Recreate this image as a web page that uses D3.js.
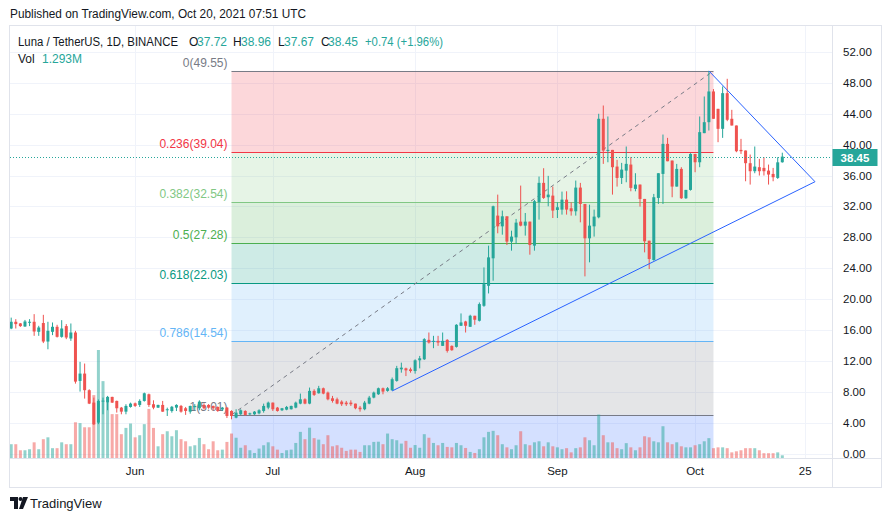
<!DOCTYPE html>
<html><head><meta charset="utf-8">
<script src="https://cdn.jsdelivr.net/npm/d3@7/dist/d3.min.js"></script>
<style>
body{margin:0;background:#fff;}
svg{display:block;font-family:"Liberation Sans",Arial,sans-serif;}
</style>
</head><body>
<svg id="chart" width="892" height="521"></svg>
<script>
// ---------------- DATA ----------------
const firstDay = "2021-05-05";
// daily candles [open, high, low, close], May 5 .. Oct 20 2021
const ohlc = [
[16.19,17.6,16.1,17.06],[17.06,17.4,16.19,16.76],[16.85,16.9,16.4,16.5],[16.45,17.3,16.4,17.1],
[16.95,17.4,16.5,17.06],[17.06,18.05,15.24,15.8],[15.76,16.54,15.24,16.32],[16.9,17.96,14.3,14.5],
[14.5,17.06,13.5,15.89],[15.76,16.97,15.33,16.41],[16.41,16.67,15.02,15.11],[15.11,17.27,15.0,16.19],
[16.5,16.76,14.81,15.02],[14.89,16.84,14.59,15.67],[15.67,15.89,9.05,9.31],[9.4,11.87,8.02,10.35],
[10.35,11.65,7.11,8.2],[8.2,8.32,6.4,6.46],
[6.59,7.24,3.7,3.78],[4.0,7.0,3.8,6.81],[6.72,7.24,5.08,6.85],[6.59,7.46,5.6,7.33],[7.33,7.35,6.55,6.59],
[6.81,6.85,5.3,5.86],[5.94,6.03,5.08,5.42],[5.42,6.38,5.08,6.16],[6.03,6.59,5.94,6.46],
[6.5,6.6,6.03,6.16],[6.29,7.02,6.03,6.81],[6.81,7.89,6.72,7.8],[7.67,7.76,6.03,6.29],[6.38,6.89,5.73,5.94],
[5.94,6.32,5.9,6.29],[6.29,6.81,5.4,5.42],[5.6,5.94,4.86,5.73],[5.5,6.16,5.29,6.05],[5.94,6.38,5.5,6.29],
[6.16,6.29,5.29,5.42],[5.86,6.03,5.0,5.51],[5.42,6.2,5.16,6.16],[6.0,6.4,5.6,6.16],[5.86,6.89,5.6,6.72],
[6.29,6.5,5.7,5.86],[6.29,6.4,5.8,5.94],[6.16,6.2,5.6,5.86],[6.03,6.1,5.4,5.5],
[5.7,6.03,5.5,5.94],[5.94,6.03,4.6,4.86],[5.51,5.6,4.43,4.86],[4.64,5.73,4.56,5.29],[5.08,5.73,5.0,5.6],
[5.51,5.6,4.9,4.99],[5.08,5.29,4.99,5.2],[5.08,5.5,5.0,5.42],[5.2,5.73,5.08,5.6],[5.51,6.46,5.29,6.16],
[5.94,6.72,5.73,6.59],
[6.59,6.6,5.51,5.73],[5.94,6.03,5.42,5.51],[5.6,5.9,5.5,5.86],[5.68,6.16,5.6,6.03],[5.73,6.2,5.7,6.16],
[5.94,6.72,5.86,6.59],[6.46,7.76,6.38,7.02],[7.02,7.15,6.38,6.46],[6.46,8.54,6.38,8.11],[8.11,8.32,7.46,7.59],
[7.8,8.76,7.76,8.45],[8.45,8.54,7.67,7.76],[7.89,8.02,6.89,7.02],[7.15,7.46,6.59,6.81],[7.02,7.24,6.38,6.46],
[6.72,6.89,6.16,6.38],[6.59,6.81,6.16,6.38],[6.59,6.89,6.16,6.38],[6.46,6.46,5.73,5.86],[5.94,6.16,5.42,5.73],
[5.73,6.81,5.6,6.59],[6.46,7.46,6.38,7.24],[7.24,8.02,7.15,7.89],[7.67,8.54,7.59,8.45],[8.45,8.54,7.67,8.02],
[8.11,8.6,8.0,8.45],[8.19,9.84,8.11,9.62],[9.4,11.35,9.3,11.05],[10.9,11.77,10.47,11.12],[11.03,11.12,10.03,10.77],
[10.9,11.12,10.47,10.68],
[10.68,12.2,10.34,12.07],[12.07,12.64,11.03,12.33],[12.2,14.94,12.12,14.81],[14.72,15.67,14.24,14.37],
[14.5,15.24,13.64,14.59],[14.59,15.24,13.94,14.37],[13.94,15.67,13.94,14.59],[14.72,14.81,13.07,13.29],
[13.94,14.0,13.3,13.38],[13.81,16.75,13.72,16.67],[16.54,18.14,16.54,16.97],[17.1,17.19,15.67,16.54],
[16.41,17.97,16.41,17.84],[17.84,17.84,16.67,17.32],[17.19,19.56,17.1,19.35],[19.13,24.1,19.0,21.94],
[21.72,26.92,20.73,25.4],[25.28,32.1,22.38,32.02],[30.81,33.53,28.52,29.42],[29.42,31.46,28.34,30.72],
[30.72,30.72,27.0,27.44],[27.44,28.86,26.27,28.09],[28.0,30.38,27.13,29.9],[30.03,34.7,29.42,29.51],
[29.51,31.15,28.22,30.03],[30.03,30.03,25.75,27.0],[26.92,32.84,26.27,32.67],[32.54,35.87,30.29,35.05],
[35.05,36.95,32.97,33.1],[33.19,35.96,32.02,33.53],[33.4,34.57,30.5,31.46],
[31.54,32.54,30.5,31.89],[31.59,33.92,30.94,32.88],[32.88,33.96,30.94,31.59],[31.76,32.54,30.81,31.37],
[31.37,35.35,30.81,34.44],[34.44,35.05,29.94,32.32],[32.32,32.32,22.94,27.87],[27.87,32.23,24.76,29.51],
[29.42,31.59,28.09,30.68],[30.59,44.0,30.46,43.35],[43.35,45.07,37.51,39.24],[39.24,43.65,37.72,39.32],
[39.32,39.32,33.53,37.08],[37.16,38.03,34.57,35.69],[35.69,37.64,34.91,36.77],[36.64,39.76,35.13,37.51],
[37.42,38.4,33.96,34.4],[34.27,36.3,33.96,34.83],[34.83,34.83,31.98,32.97],[32.97,32.97,26.05,27.48],
[27.56,27.56,23.89,25.19],[25.06,33.62,24.97,33.19],[33.1,36.3,32.32,36.3],[36.21,41.31,32.32,40.1],
[40.1,40.88,37.85,37.85],[37.94,37.94,33.19,34.57],[34.57,37.51,34.57,36.86],[36.86,37.08,32.97,33.06],
[33.06,34.14,32.97,34.14],[34.14,38.89,34.05,38.8],
[38.8,38.8,36.43,37.72],[37.72,43.65,37.08,41.62],[41.49,46.24,41.49,42.91],[42.91,49.55,41.83,46.89],
[46.89,47.2,43.35,43.35],[44.64,44.64,40.32,42.05],[42.05,47.54,40.88,46.67],[46.67,48.53,43.04,43.22],
[43.35,44.51,42.48,42.48],[42.48,42.48,39.02,39.15],[39.32,40.75,38.8,39.15],[39.24,39.24,35.26,37.6],
[37.6,38.72,34.83,36.56],[36.56,39.76,36.3,37.16],[37.08,38.16,36.0,36.56],[36.99,38.37,36.0,36.56],
[36.64,37.42,34.83,36.13],[36.21,36.99,35.26,35.78],[35.69,38.37,35.56,37.71],[37.72,38.96,37.67,38.45]
];
// daily volume, millions
const volume = [
6.6,6.6,3.7,3.7,4.2,7.5,4.2,9.0,9.9,4.7,4.7,7.5,6.6,6.6,17.1,16.7,14.7,14.7,30.1,51.7,36.8,26.4,21.0,21.0,11.4,14.4,16.5,
9.9,10.9,16.2,23.5,14.4,5.6,11.4,12.8,10.4,13.3,9.0,8.0,5.6,6.1,9.6,6.6,4.2,8.0,3.7,
4.0,7.7,11.7,9.7,4.9,6.1,3.7,2.4,4.5,6.1,7.5,
5.6,4.0,2.4,3.7,4.0,7.2,12.5,9.0,14.5,9.5,8.8,6.6,10.9,5.6,6.1,4.9,3.4,4.0,4.0,2.9,6.1,6.1,7.7,7.8,6.6,11.7,9.0,8.5,6.9,8.2,4.9,
6.2,4.9,11.4,9.7,7.2,6.1,7.2,5.3,5.1,7.2,6.1,4.8,2.9,2.4,4.2,9.9,12.5,13.0,10.9,6.6,5.1,4.2,6.1,12.8,6.6,6.1,7.5,8.0,5.6,7.5,5.6,
5.1,4.2,4.7,2.7,4.7,5.1,9.9,8.5,6.1,20.8,10.9,7.5,7.5,4.7,4.2,7.1,5.1,3.7,5.1,10.4,9.9,8.0,7.5,15.2,7.5,6.6,7.5,5.6,5.1,5.1,
6.1,6.6,8.0,9.5,4.7,5.1,5.1,4.7,2.7,3.2,3.7,4.7,4.7,4.7,3.7,2.3,2.3,2.3,2.7,1.293
];
const priceTicks = [0,4,8,12,16,20,24,28,32,36,40,44,48,52];
const timeTickDates = ["2021-06-01","2021-07-01","2021-08-01","2021-09-01","2021-10-01","2021-10-25"];
const timeTickLabels = ["Jun","Jul","Aug","Sep","Oct","25"];
const fibRatios = [0,0.236,0.382,0.5,0.618,0.786,1,1.618];
const fibPrices = [49.55,39.04,32.54,27.28,22.03,14.54,5.01,-22.52];
const fibColors = ["#787b86","#f23645","#81c784","#4caf50","#089981","#64b5f6","#787b86","#2962ff"];
const fibFromDate = "2021-06-22", fibToDate = "2021-10-05";
const triangleDates = ["2021-07-27T00:00","2021-10-27T03:00","2021-10-04T00:00"];
const trianglePrices = [8.1, 35.2, 49.55];
const lastPrice = 38.45;

// ---------------- LAYOUT ----------------
const pane = {l:10, r:832, t:25.5, b:458};
const upColor = "#26a69a", downColor = "#ef5350";
const parseDay = d3.utcParse("%Y-%m-%d");
const parseDT = d3.utcParse("%Y-%m-%dT%H:%M");
const start = parseDay(firstDay);
const days = ohlc.map((d,i)=>d3.utcDay.offset(start,i));

const x = d3.scaleUtc().domain([days[0], days[days.length-1]]).range([11.2, 782.3]);
const y = d3.scaleLinear().domain([0,52]).range([453.5, 52]);
const yV = d3.scaleLinear().domain([0, d3.max(volume)]).range([pane.b, 350]);

const svg = d3.select("#chart");
svg.append("rect").attr("width",892).attr("height",521).attr("fill","#fff");

const defs = svg.append("defs");
defs.append("clipPath").attr("id","pc").append("rect")
  .attr("x",pane.l).attr("y",pane.t).attr("width",pane.r-pane.l).attr("height",pane.b-pane.t);

const g = svg.append("g").attr("clip-path","url(#pc)");

// grid
g.selectAll("line.hg").data(priceTicks).join("line")
  .attr("x1",pane.l).attr("x2",pane.r)
  .attr("y1",d=>Math.round(y(d))+0.5).attr("y2",d=>Math.round(y(d))+0.5)
  .attr("stroke","#f0f3fa").attr("stroke-width",1);
const tDates = timeTickDates.map(parseDay);
g.selectAll("line.vg").data(tDates).join("line")
  .attr("x1",d=>Math.round(x(d))+0.5).attr("x2",d=>Math.round(x(d))+0.5)
  .attr("y1",pane.t).attr("y2",pane.b)
  .attr("stroke","#f0f3fa").attr("stroke-width",1);

// fib bands
const fx0 = x(parseDay(fibFromDate)), fx1 = x(parseDay(fibToDate));
for(let i=1;i<fibPrices.length;i++){
  const top = y(fibPrices[i-1]);
  const bot = (i===fibPrices.length-1) ? pane.b : y(fibPrices[i]);
  g.append("rect").attr("x",fx0).attr("width",fx1-fx0)
    .attr("y",top).attr("height",Math.min(bot,pane.b)-top)
    .attr("fill",fibColors[i]).attr("fill-opacity",0.2);
}
// fib lines + labels
for(let i=0;i<7;i++){
  const yy = Math.round(y(fibPrices[i]))+0.5;
  g.append("line").attr("x1",fx0).attr("x2",fx1).attr("y1",yy).attr("y2",yy)
    .attr("stroke",fibColors[i]).attr("stroke-width",1);
  g.append("text").attr("x",fx0-4).attr("y",yy-5).attr("text-anchor","end")
    .attr("font-size",12).attr("fill",fibColors[i])
    .text(fibRatios[i]+"("+fibPrices[i].toFixed(2)+")");
}

// volume
const bw = 3;
g.selectAll("rect.vol").data(volume).join("rect")
  .attr("x",(d,i)=>x(days[i])-bw/2).attr("width",bw)
  .attr("y",d=>yV(d)).attr("height",d=>pane.b-yV(d))
  .attr("fill",(d,i)=>ohlc[i][3]>=ohlc[i][0]?upColor:downColor)
  .attr("fill-opacity",0.5);

// dashed fib trend line
g.append("line").attr("x1",fx0).attr("y1",y(fibPrices[6])).attr("x2",fx1).attr("y2",y(fibPrices[0]))
  .attr("stroke","#787b86").attr("stroke-width",1).attr("stroke-dasharray","4,4");

// candles
const cg = g.append("g");
ohlc.forEach((c,i)=>{
  const cx = x(days[i]);
  const col = c[3]>=c[0]?upColor:downColor;
  cg.append("rect").attr("x",cx-0.5).attr("width",1)
    .attr("y",y(c[1])).attr("height",Math.max(1,y(c[2])-y(c[1]))).attr("fill",col);
  const top = y(Math.max(c[0],c[3])), bot = y(Math.min(c[0],c[3]));
  cg.append("rect").attr("x",cx-1.5).attr("width",3)
    .attr("y",top).attr("height",Math.max(1,bot-top)).attr("fill",col);
});

// triangle
const tri = triangleDates.map((d,i)=>[x(parseDT(d)), y(trianglePrices[i])]);
g.append("path").attr("d",d3.line()(tri)).attr("fill","none")
  .attr("stroke","#2962ff").attr("stroke-width",1);

// last price line
const ly = Math.round(y(lastPrice))+0.5;
g.append("line").attr("x1",pane.l).attr("x2",pane.r).attr("y1",ly).attr("y2",ly)
  .attr("stroke",upColor).attr("stroke-width",1).attr("stroke-dasharray","1,2");

// frame & separators
svg.append("rect").attr("x",9.5).attr("y",25.5).attr("width",872).attr("height",462)
  .attr("fill","none").attr("stroke","#e0e3eb");
svg.append("line").attr("x1",832.5).attr("x2",832.5).attr("y1",25.5).attr("y2",487.5).attr("stroke","#e0e3eb");
svg.append("line").attr("x1",9.5).attr("x2",881.5).attr("y1",458.5).attr("y2",458.5).attr("stroke","#e0e3eb");

// price axis labels
svg.append("g").selectAll("text").data(priceTicks).join("text")
  .attr("x",843).attr("y",d=>y(d)+4).attr("font-size",11.5).attr("fill","#131722")
  .text(d=>d.toFixed(2));
// last price tag
svg.append("rect").attr("x",832.5).attr("y",ly-8.5).attr("width",45).attr("height",17).attr("fill",upColor);
svg.append("text").attr("x",855).attr("y",ly+4).attr("text-anchor","middle").attr("font-size",11.5)
  .attr("font-weight","bold").attr("fill","#fff").text(lastPrice.toFixed(2));

// time axis labels
svg.append("g").selectAll("text").data(tDates).join("text")
  .attr("x",d=>x(d)).attr("y",475).attr("text-anchor","middle").attr("font-size",11.5).attr("fill","#131722")
  .text((d,i)=>timeTickLabels[i]);

// header texts
svg.append("text").attr("x",10).attr("y",18).attr("font-size",12).attr("fill","#131722")
  .attr("textLength",296).attr("lengthAdjust","spacingAndGlyphs")
  .text("Published on TradingView.com, Oct 20, 2021 07:51 UTC");
const legend = [
  ["Luna / TetherUS, 1D, BINANCE",18,"#131722",160],["O",189,"#131722",0],["37.72",197,upColor,0],
  ["H",233,"#131722",0],["38.96",241,upColor,0],["L",278,"#131722",0],["37.67",284,upColor,0],
  ["C",321,"#131722",0],["38.45",328,upColor,0],["+0.74 (+1.96%)",365,upColor,78]
];
legend.forEach(t=>{
  const el = svg.append("text").attr("x",t[1]).attr("y",46).attr("font-size",12).attr("fill",t[2]).text(t[0]);
  if(t[3]) el.attr("textLength",t[3]).attr("lengthAdjust","spacingAndGlyphs");
});
svg.append("text").attr("x",18).attr("y",63).attr("font-size",12).attr("fill","#131722").text("Vol");
svg.append("text").attr("x",42).attr("y",63).attr("font-size",12).attr("fill",upColor).text("1.293M");

// TradingView logo
const lg = svg.append("g").attr("fill","#131722");
lg.append("path").attr("d","M10,497h8v12h-4v-8h-4z");
lg.append("circle").attr("cx",20.5).attr("cy",499).attr("r",2);
lg.append("path").attr("d","M23,497h5l-5,12h-4z");
svg.append("text").attr("x",30).attr("y",508).attr("font-size",13).attr("fill","#131722").text("TradingView");
</script>
</body></html>
